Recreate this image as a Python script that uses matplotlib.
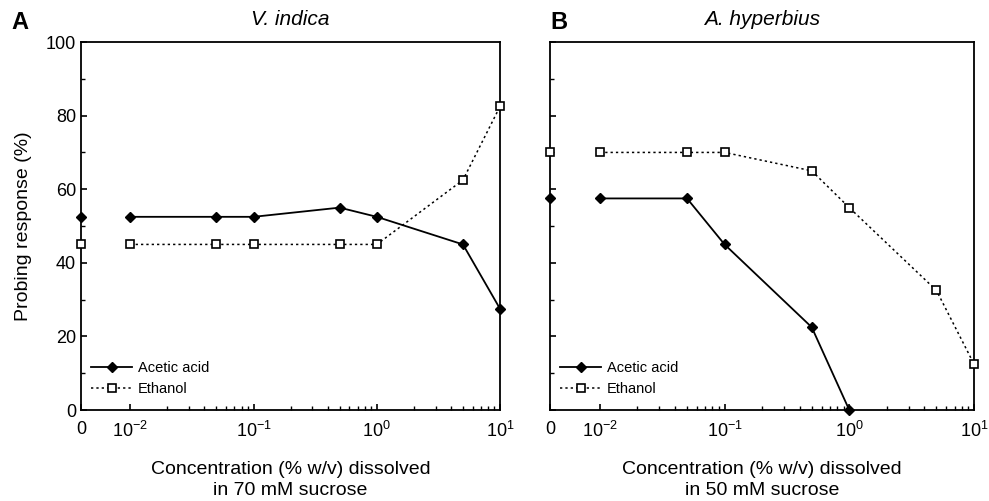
import numpy as np
import matplotlib
matplotlib.use('Agg')
from matplotlib import pyplot as plt
from matplotlib.ticker import FixedLocator, NullFormatter

plt.rcParams.update({'font.family': 'Liberation Sans', 'font.size': 13,
                     'mathtext.fontset': 'custom', 'mathtext.rm': 'Liberation Sans',
                     'mathtext.it': 'Liberation Sans:italic'})

# x = 0 is drawn at a fake position left of 10^-2
zero_pos = 10 ** -2.4

conc_a = [0.01, 0.05, 0.1, 0.5, 1, 5, 10]
acetic_a0 = 52.5
acetic_a = [52.5, 52.5, 52.5, 55, 52.5, 45, 27.5]
ethanol_a0 = 45
ethanol_a = [45, 45, 45, 45, 45, 62.5, 82.5]

conc_b_acetic = [0.01, 0.05, 0.1, 0.5, 1]
acetic_b0 = 57.5
acetic_b = [57.5, 57.5, 45, 22.5, 0]
conc_b_ethanol = [0.01, 0.05, 0.1, 0.5, 1, 5, 10]
ethanol_b0 = 70
ethanol_b = [70, 70, 70, 65, 55, 32.5, 12.5]

tick_pos = [zero_pos, 0.01, 0.1, 1, 10]
tick_lab = ['0', r'$10^{-2}$', r'$10^{-1}$', r'$10^{0}$', r'$10^{1}$']
minor = [m * 10.0 ** d for d in (-2, -1, 0) for m in range(2, 10)]

fig = plt.figure(figsize=(9.89, 5.01), dpi=100)
axA = fig.add_axes([0.0819, 0.1816, 0.4237, 0.7345])
axB = fig.add_axes([0.5561, 0.1816, 0.4287, 0.7345])

dot = (0, (1.5, 2))

def panel(ax, ca, acid0, acid, ce, eth0, eth, title, letter, letter_x, sucrose):
    ax.plot(ca, acid, color='black', lw=1.3, marker='D', ms=5, mfc='black',
            mec='black', label='Acetic acid', clip_on=False, zorder=3)
    ax.plot(ce, eth, color='black', lw=1.1, ls=dot, marker='s', ms=6, mfc='white',
            mec='black', mew=1.2, label='Ethanol', clip_on=False, zorder=3)
    ax.plot([zero_pos], [acid0], marker='D', ms=5, color='black', clip_on=False, zorder=4)
    ax.plot([zero_pos], [eth0], marker='s', ms=6, mfc='white', mec='black', mew=1.2,
            clip_on=False, zorder=4)
    ax.set_xscale('log')
    ax.set_xlim(zero_pos, 10)
    ax.set_ylim(0, 100)
    ax.xaxis.set_major_locator(FixedLocator(tick_pos))
    ax.set_xticklabels(tick_lab)
    ax.xaxis.set_minor_locator(FixedLocator(minor))
    ax.xaxis.set_minor_formatter(NullFormatter())
    ax.set_yticks([0, 20, 40, 60, 80, 100])
    ax.set_yticks(np.arange(10, 100, 20), minor=True)
    ax.tick_params(which='both', direction='in', top=False, right=False, labelsize=13)
    ax.tick_params(which='major', length=4, width=1.2)
    ax.tick_params(which='minor', length=3, width=1)
    ax.tick_params(axis='x', pad=8)
    for s in ax.spines.values():
        s.set_linewidth(1.3)
    ax.set_xlabel(f'Concentration (% w/v) dissolved\nin {sucrose} mM sucrose', fontsize=14,
                  labelpad=14, linespacing=1.3)
    ax.set_title(title, fontsize=15, style='italic', pad=12)
    fig.text(letter_x, 1 - 34 / 501, letter, fontsize=17, fontweight='bold',
             va='bottom', ha='left')
    ax.legend(loc='lower left', frameon=False, fontsize=10.5, handlelength=2.8,
              handletextpad=0.4, borderaxespad=0.3, labelspacing=0.5,
              bbox_to_anchor=(0.0, 0.01))

panel(axA, conc_a, acetic_a0, acetic_a, conc_a, ethanol_a0, ethanol_a,
      'V. indica', 'A', 11 / 989, 70)
panel(axB, conc_b_acetic, acetic_b0, acetic_b, conc_b_ethanol, ethanol_b0, ethanol_b,
      'A. hyperbius', 'B', 550 / 989, 50)
axA.set_ylabel('Probing response (%)', fontsize=14, labelpad=10)
axB.set_yticklabels([])

fig.savefig('out.png', dpi=100)
